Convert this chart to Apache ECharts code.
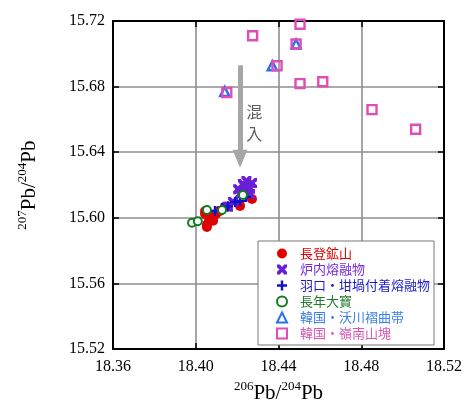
<!DOCTYPE html>
<html><head><meta charset="utf-8">
<script src="https://cdn.jsdelivr.net/npm/echarts@6/dist/echarts.min.js"></script>
<style>html,body{margin:0;padding:0;background:#fff}#c{width:465px;height:409px}</style>
</head><body><div id="c"></div>
<script>
// ---- data (206Pb/204Pb, 207Pb/204Pb) ----
const seriesNames = ['長登鉱山','炉内熔融物','羽口・坩堝付着熔融物','長年大寶','韓国・沃川褶曲帯','韓国・嶺南山塊'];
const nagatoMine = [[18.4045,15.6042],[18.406,15.601],[18.4054,15.5958],[18.4083,15.6006],[18.4117,15.6042],[18.4156,15.607],[18.4214,15.6073],[18.4272,15.6115],[18.4065,15.5985],[18.4054,15.5945],[18.4084,15.5982],[18.4098,15.6024],[18.4112,15.6042],[18.4045,15.6024],[18.4141,15.6067]];
const furnaceMelt = [[18.4228,15.6206],[18.4253,15.6188],[18.4272,15.6212],[18.4238,15.6164],[18.4214,15.6145],[18.4262,15.6145],[18.4245,15.6225],[18.418,15.6097],[18.4156,15.6067],[18.4205,15.6175],[18.4262,15.6178],[18.4235,15.6195]];
const tuyereMelt = [[18.4093,15.6042],[18.4127,15.606],[18.4156,15.607],[18.419,15.6097],[18.4214,15.6103],[18.4243,15.6127]];
const choNenTaiho = [[18.3982,15.597],[18.401,15.598],[18.4054,15.6048],[18.4127,15.6048],[18.4228,15.6139]];
const okchonBelt = [[18.414,15.677],[18.437,15.6927],[18.4485,15.706]];
const yeongnamMassif = [[18.4275,15.711],[18.4393,15.6927],[18.415,15.6764],[18.4504,15.718],[18.4485,15.706],[18.4504,15.6818],[18.4614,15.683],[18.4852,15.666],[18.5063,15.654]];
const xTicks = {min:18.36, max:18.52, step:0.04};
const yTicks = {min:15.52, max:15.72, step:0.04};
const arrowFrom = [18.4214, 15.693];
const arrowTo = [18.4214, 15.636];
const mixLabel = {text:'混\n入', pos:[18.4283, 15.6576]};

const colors = ['#e00000','#6a1fd6','#1010d0','#137a22','#2a6ff0','#e04cb8'];
const textColors = ['#e00000','#7a2be0','#1a1ad0','#1f7a2a','#3a80f0','#d858b8'];
const xPath = 'path://M0,0 L2.8,0 L5,2.4 L7.2,0 L10,0 L10,2.8 L7.6,5 L10,7.2 L10,10 L7.2,10 L5,7.6 L2.8,10 L0,10 L0,7.2 L2.4,5 L0,2.8 Z';
const plusPath = 'path://M3.8,0 H6.2 V3.8 H10 V6.2 H6.2 V10 H3.8 V6.2 H0 V3.8 H3.8 Z';

const serif = '"Liberation Serif","Times New Roman",serif';
const cjk = '"Noto Sans CJK JP","Noto Sans",sans-serif';
const fmt = v => v.toFixed(2);

const chart = echarts.init(document.getElementById('c'), null, {renderer:'canvas'});
const axisCommon = {
  type:'value', scale:true,
  axisLine:{show:true, onZero:false, lineStyle:{color:'#000', width:2}},
  axisTick:{show:true, inside:true, length:6, lineStyle:{color:'#000', width:1.5}},
  splitLine:{show:false}
};
const nameRich = {
  sup:{fontFamily:serif, fontSize:13, color:'#000', verticalAlign:'top', lineHeight:24},
  b:{fontFamily:serif, fontSize:21, color:'#000', verticalAlign:'bottom', lineHeight:24}
};
const makeSeries = (i, data, symbol, size, style) => ({
  name: seriesNames[i], type:'scatter', data, symbol, symbolSize:size,
  itemStyle: Object.assign({opacity:1}, style), z: 3 + i, silent:true
});

chart.setOption({
  animation:false,
  grid:{left:113, right:21, top:21, bottom:58, containLabel:false},
  xAxis:[
    Object.assign({}, axisCommon, {
      min:xTicks.min, max:xTicks.max, interval:xTicks.step, position:'bottom',
      axisLabel:{formatter:fmt, fontFamily:serif, fontSize:16, color:'#000', margin:10},
      splitLine:{show:true, lineStyle:{color:'#8f8f8f', width:1.6}},
      name:'{sup|206}{b|Pb/}{sup|204}{b|Pb}', nameLocation:'middle', nameGap:29,
      nameTextStyle:{rich:nameRich}
    }),
    Object.assign({}, axisCommon, {
      min:xTicks.min, max:xTicks.max, interval:xTicks.step, position:'top',
      axisLabel:{show:false}
    })
  ],
  yAxis:[
    Object.assign({}, axisCommon, {
      min:yTicks.min, max:yTicks.max, interval:yTicks.step, position:'left',
      axisLabel:{formatter:fmt, fontFamily:serif, fontSize:16, color:'#000', margin:8},
      splitLine:{show:true, lineStyle:{color:'#8f8f8f', width:1.6}},
      name:'{sup|207}{b|Pb/}{sup|204}{b|Pb}', nameLocation:'middle', nameGap:73, nameRotate:90,
      nameTextStyle:{rich:nameRich}
    }),
    Object.assign({}, axisCommon, {
      min:yTicks.min, max:yTicks.max, interval:yTicks.step, position:'right',
      axisLabel:{show:false}
    })
  ],
  legend:{
    data: seriesNames.map((n,i)=>({name:n, textStyle:{color:textColors[i]}})),
    orient:'vertical', left:258, top:241,
    backgroundColor:'#fff', borderColor:'#777', borderWidth:1, borderRadius:0,
    padding:[5, 4, 4, 18], itemGap:1, itemWidth:10, itemHeight:10,
    textStyle:{fontFamily:cjk, fontSize:13, lineHeight:15, padding:[0,0,0,8]},
    selectedMode:false
  },
  series:[
    {
      type:'line', data:[], silent:true, z:2,
      markLine:{
        silent:true, animation:false,
        symbol:['none','triangle'], symbolSize:[15,18],
        label:{show:false},
        lineStyle:{color:'#a6a6a6', width:5, type:'solid'},
        emphasis:{disabled:true},
        data:[[{coord:arrowFrom},{coord:arrowTo}]]
      }
    },
    {
      type:'scatter', data:[mixLabel.pos], symbol:'circle', symbolSize:1, silent:true, z:2,
      itemStyle:{color:'rgba(0,0,0,0)'},
      label:{show:true, position:'inside', formatter:mixLabel.text, fontFamily:cjk, fontSize:16, lineHeight:22, color:'#333'}
    },
    makeSeries(0, nagatoMine, 'circle', 10, {color:colors[0]}),
    makeSeries(1, furnaceMelt, xPath, 10, {color:colors[1]}),
    makeSeries(2, tuyereMelt, plusPath, 10, {color:colors[2]}),
    makeSeries(3, choNenTaiho, 'circle', 8, {color:'#fff', borderColor:colors[3], borderWidth:2}),
    makeSeries(4, okchonBelt, 'triangle', 9, {color:'#fff', borderColor:colors[4], borderWidth:2.5}),
    makeSeries(5, yeongnamMassif, 'rect', 9, {color:'rgba(255,255,255,0)', borderColor:colors[5], borderWidth:2.4})
  ]
});
</script></body></html>
